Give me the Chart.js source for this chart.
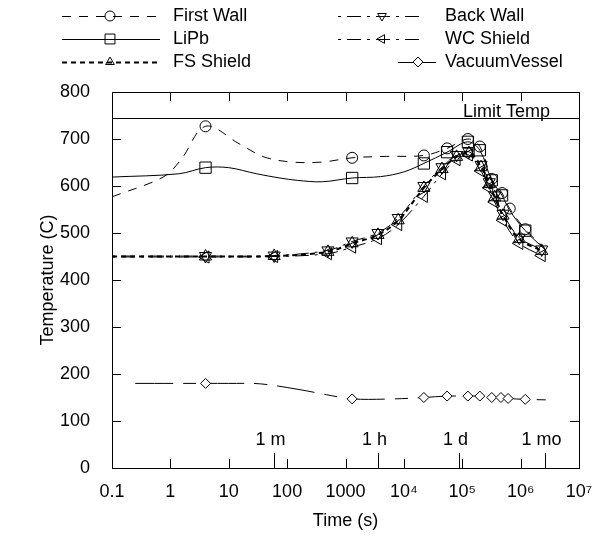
<!DOCTYPE html>
<html>
<head>
<meta charset="utf-8">
<script src="https://cdn.jsdelivr.net/npm/chart.js@4"></script>
<style>
  html, body { margin: 0; padding: 0; background: #fff; }
  #wrap { width: 604px; height: 537px; }
</style>
</head>
<body>
<div id="wrap"><canvas id="chart" width="604" height="537"></canvas></div>
<script>
// times in seconds, temperatures in C
let fwTime = [0.1, 0.75, 1.5, 4, 15, 40, 120, 400, 1300, 5000, 22000, 55000, 125000, 200000, 320000, 480000, 650000, 1.2e6, 2.6e6];
let fwTemp = [577, 619, 655, 727, 690, 662, 651, 651, 660, 663, 665, 680, 700, 684, 615, 585, 552, 508, 467];
let fwMarks = [4, 1300, 22000, 55000, 125000, 200000, 320000, 480000, 650000, 1.2e6];

let lipbTime = [0.1, 1.4, 4, 10, 30, 75, 150, 400, 1300, 4000, 10000, 22000, 55000, 125000, 200000, 320000, 480000, 650000, 1.2e6, 2.6e6];
let lipbTemp = [619, 626, 639, 639, 626, 617, 612, 609, 617, 620, 630, 648, 672, 694, 676, 612, 580, 548, 505, 465];
let lipbMarks = [4, 1300, 22000, 55000, 125000, 200000, 320000, 480000, 1.2e6];

let shieldTime = [0.1, 4, 60, 500, 1300, 3600, 8000, 22000, 45000, 80000, 130000, 210000, 290000, 360000, 500000, 950000, 2.3e6];
let shieldMarks = [4, 60, 500, 1300, 3600, 8000, 22000, 45000, 80000, 130000, 210000, 290000, 360000, 500000, 950000, 2.3e6];
let fsTemp = [450, 450, 451, 460, 478, 496, 527, 596, 636, 662, 670, 640, 604, 576, 537, 487, 462];
let bwTemp = [451, 451, 452, 463, 482, 500, 532, 600, 640, 666, 673, 645, 608, 580, 541, 490, 465];
let wcTemp = [449, 449, 450, 456, 470, 488, 518, 578, 626, 656, 666, 632, 596, 566, 527, 478, 452];

let vvTime = [0.25, 4, 10, 35, 160, 470, 1300, 6500, 22000, 55000, 125000, 200000, 320000, 460000, 610000, 1.2e6, 2.7e6];
let vvTemp = [180, 180, 180, 179, 167, 156, 147, 147, 150, 153, 153, 153, 150, 150, 148, 146, 145];
let vvMarks = [4, 1300, 22000, 55000, 125000, 200000, 320000, 460000, 610000, 1.2e6];

let xTickValues = [0.1, 1, 10, 100, 1000, 1e4, 1e5, 1e6, 1e7];
let xTickLabels = ["0.1", "1", "10", "100", "1000", "10\u2074", "10\u2075", "10\u2076", "10\u2077"];
let timeMarkValues = [60, 3600, 86400, 2592000];
let timeMarkLabels = ["1 m", "1 h", "1 d", "1 mo"];
let limitTemp = 745;
let limitLabel = "Limit Temp";

const fontFamily = "'Liberation Sans', Arial, sans-serif";
const fontSize = 18;

function points(times, temps) {
  return times.map(function(t, i) {
    return { x: t, y: temps[i] };
  });
}

function markRadius(marks, r) {
  return function(ctx) {
    let p = ctx.raw;
    return p && marks.indexOf(p.x) >= 0 ? r : 0;
  };
}

function make_series(label, times, temps, marks, style) {
  return {
    label: label,
    data: points(times, temps),
    borderColor: "#000",
    borderWidth: style.width || 1,
    borderDash: style.dash,
    tension: 0.35,
    pointStyle: style.point,
    rotation: style.rotation || 0,
    pointRadius: markRadius(marks, style.radius),
    pointBorderColor: "#000",
    pointBorderWidth: 1,
    pointBackgroundColor: style.fill || "rgba(0,0,0,0)"
  };
}

let datasets = [
  make_series("First Wall", fwTime, fwTemp, fwMarks, { dash: [9, 8], point: "circle", radius: 5.5 }),
  make_series("LiPb", lipbTime, lipbTemp, lipbMarks, { dash: [], point: "rect", radius: 8 }),
  make_series("FS Shield", shieldTime, fsTemp, shieldMarks, { dash: [5, 4], width: 2, point: "triangle", radius: 7 }),
  make_series("Back Wall", shieldTime, bwTemp, shieldMarks, { dash: [3, 6, 14, 6], point: "triangle", rotation: 180, radius: 7 }),
  make_series("WC Shield", shieldTime, wcTemp, shieldMarks, { dash: [3, 6, 14, 6], point: "triangle", rotation: 270, radius: 7 }),
  make_series("VacuumVessel", vvTime, vvTemp, vvMarks, { dash: [38, 10, 13, 10], point: "rectRot", radius: 5, fill: "#fff" })
];

// legend slots: [sample start, marker, sample end, text x, row y]
let legendSlots = [
  [62, 110, 160, 173, 16],
  [62, 110, 160, 173, 39],
  [62, 110, 160, 173, 62],
  [338, 382, 420, 445, 16],
  [338, 382, 420, 445, 39],
  [398, 418, 436, 445, 62]
];
let legendOrder = [0, 1, 2, 3, 4, 5];

const decor = {
  id: "decor",
  afterDraw(chart) {
    let ctx = chart.ctx;
    let a = chart.chartArea;
    let xs = chart.scales.x;
    let ys = chart.scales.y;
    ctx.save();
    ctx.strokeStyle = "#000";
    ctx.fillStyle = "#000";
    ctx.lineWidth = 1;
    ctx.setLineDash([]);

    // frame
    ctx.strokeRect(Math.round(a.left) + 0.5, Math.round(a.top) + 0.5,
      Math.round(a.right - a.left), Math.round(a.bottom - a.top));

    // inward ticks
    ctx.beginPath();
    xTickValues.forEach(function(v) {
      let px = Math.round(xs.getPixelForValue(v)) + 0.5;
      ctx.moveTo(px, a.bottom);
      ctx.lineTo(px, a.bottom - 9);
      ctx.moveTo(px, a.top);
      ctx.lineTo(px, a.top + 9);
    });
    ys.ticks.forEach(function(t) {
      let py = Math.round(ys.getPixelForValue(t.value)) + 0.5;
      ctx.moveTo(a.left, py);
      ctx.lineTo(a.left + 9, py);
      ctx.moveTo(a.right, py);
      ctx.lineTo(a.right - 9, py);
    });
    ctx.stroke();

    // time marks
    ctx.font = fontSize + "px " + fontFamily;
    ctx.textAlign = "center";
    ctx.textBaseline = "middle";
    ctx.beginPath();
    timeMarkValues.forEach(function(v, i) {
      let px = Math.round(xs.getPixelForValue(v)) + 0.5;
      ctx.moveTo(px, a.bottom);
      ctx.lineTo(px, a.bottom - 15);
      ctx.fillText(timeMarkLabels[i], px - 4, a.bottom - 28);
    });
    ctx.stroke();

    // limit line
    let ly = Math.round(ys.getPixelForValue(limitTemp)) + 0.5;
    ctx.beginPath();
    ctx.moveTo(a.left, ly);
    ctx.lineTo(a.right, ly);
    ctx.stroke();
    ctx.textAlign = "right";
    ctx.textBaseline = "alphabetic";
    ctx.fillText(limitLabel, a.right - 29, ly - 2);

    // legend
    ctx.textAlign = "left";
    ctx.textBaseline = "middle";
    legendOrder.forEach(function(di, k) {
      let ds = chart.data.datasets[di];
      let s = legendSlots[k];
      ctx.save();
      ctx.lineWidth = ds.borderWidth;
      ctx.setLineDash(ds.borderDash || []);
      ctx.beginPath();
      ctx.moveTo(s[0], s[4] + 0.5);
      ctx.lineTo(s[2], s[4] + 0.5);
      ctx.stroke();
      ctx.setLineDash([]);
      ctx.lineWidth = 1;
      ctx.fillStyle = ds.pointBackgroundColor;
      Chart.helpers.drawPoint(ctx, {
        pointStyle: ds.pointStyle,
        rotation: ds.rotation,
        radius: ds.pointStyle === "rect" ? 7 : 5,
        borderWidth: 1
      }, s[1], s[4]);
      ctx.restore();
      ctx.fillText(ds.label, s[3], s[4]);
    });
    ctx.restore();
  }
};

new Chart(document.getElementById("chart").getContext("2d"), {
  type: "line",
  data: { datasets: datasets },
  options: {
    responsive: false,
    animation: false,
    events: [],
    layout: { padding: { left: 0, right: 25, top: 92, bottom: 0 } },
    plugins: {
      legend: { display: false },
      tooltip: { enabled: false }
    },
    scales: {
      x: {
        type: "logarithmic",
        min: 0.1,
        max: 1e7,
        grid: { display: false },
        border: { display: false },
        afterBuildTicks: function(axis) {
          axis.ticks = xTickValues.map(function(v) { return { value: v }; });
        },
        afterFit: function(axis) { axis.height = 69; },
        ticks: {
          autoSkip: false,
          maxRotation: 0,
          padding: 5,
          color: "#000",
          font: { family: fontFamily, size: fontSize },
          callback: function(value, index) { return xTickLabels[index]; }
        },
        title: {
          display: true,
          text: "Time (s)",
          color: "#000",
          padding: { top: 0, bottom: 5 },
          font: { family: fontFamily, size: fontSize }
        }
      },
      y: {
        min: 0,
        max: 800,
        grid: { display: false },
        border: { display: false },
        afterFit: function(axis) { axis.width = 112; },
        ticks: {
          stepSize: 100,
          padding: 14,
          color: "#000",
          font: { family: fontFamily, size: fontSize }
        },
        title: {
          display: true,
          text: "Temperature (C)",
          color: "#000",
          padding: { top: 37, bottom: 0 },
          font: { family: fontFamily, size: fontSize }
        }
      }
    }
  },
  plugins: [decor]
});
</script>
</body>
</html>
